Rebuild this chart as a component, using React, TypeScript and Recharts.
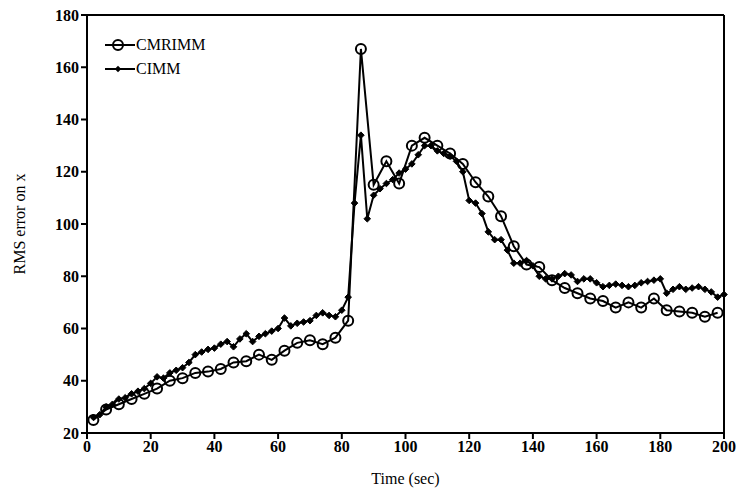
import React from "react";
import {
  LineChart,
  Line,
  XAxis,
  YAxis,
  ReferenceLine,
} from "recharts";

// CMRIMM sampled every 4 s, CIMM every 2 s
const cmrimmTime = [
  2, 6, 10, 14, 18, 22, 26, 30, 34, 38, 42, 46, 50, 54, 58, 62, 66, 70, 74, 78,
  82, 86, 90, 94, 98, 102, 106, 110, 114, 118, 122, 126, 130, 134, 138, 142,
  146, 150, 154, 158, 162, 166, 170, 174, 178, 182, 186, 190, 194, 198,
];
const cmrimmRms = [
  25, 29, 31, 33, 35, 37, 40, 41, 43, 43.5, 44.5, 47, 47.5, 50, 48, 51.5, 54.5,
  55.5, 54, 56.5, 63, 167, 115, 124, 115.5, 130, 133, 130, 127, 123, 116, 110.5,
  103, 91.5, 84.5, 83.5, 78.5, 75.5, 73.5, 71.5, 70.5, 68, 70, 68, 71.5, 67,
  66.5, 66, 64.5, 66,
];

const cimmTime = [
  2, 4, 6, 8, 10, 12, 14, 16, 18, 20, 22, 24, 26, 28, 30, 32, 34, 36, 38, 40,
  42, 44, 46, 48, 50, 52, 54, 56, 58, 60, 62, 64, 66, 68, 70, 72, 74, 76, 78,
  80, 82, 84, 86, 88, 90, 92, 94, 96, 98, 100, 102, 104, 106, 108, 110, 112,
  114, 116, 118, 120, 122, 124, 126, 128, 130, 132, 134, 136, 138, 140, 142,
  144, 146, 148, 150, 152, 154, 156, 158, 160, 162, 164, 166, 168, 170, 172,
  174, 176, 178, 180, 182, 184, 186, 188, 190, 192, 194, 196, 198, 200,
];
const cimmRms = [
  26, 27, 30, 31, 33, 33.5, 35, 36, 37, 39, 41.5, 41, 43, 44, 45, 47, 50, 51,
  52, 52.5, 54, 55, 53, 56, 58, 55, 57, 58, 59, 60, 64, 61, 62, 62.5, 63, 65,
  66, 65, 64.5, 67, 72, 108, 134, 102, 111, 113.5, 115.5, 117, 119.5, 121, 123,
  126.5, 130, 130, 128, 127, 126, 124, 120, 109, 108, 104, 97, 94, 94, 90, 85,
  85, 86, 84, 80, 79, 79, 80, 81, 80.5, 78, 79, 79, 77.5, 76, 76.5, 77, 76.5,
  76, 76.5, 77.5, 78, 78.5, 79, 73.5, 75, 76, 75, 75.5, 76, 75, 74, 72, 73,
];

const xTicks = [0, 20, 40, 60, 80, 100, 120, 140, 160, 180, 200];
const yTicks = [20, 40, 60, 80, 100, 120, 140, 160, 180];

const cmrimmData = cmrimmTime.map((t, i) => ({ t, v: cmrimmRms[i] }));
const cimmData = cimmTime.map((t, i) => ({ t, v: cimmRms[i] }));

const FONT = "'Liberation Serif', 'Times New Roman', serif";
const tickStyle = { fontFamily: FONT, fontSize: 16, fontWeight: 700, fill: "#000" };

function Diamond(props: any) {
  const { cx, cy, index } = props;
  if (cx == null || cy == null) return <g key={`d-${index}`} />;
  const s = 3.3;
  return (
    <polygon
      key={`d-${index}`}
      points={`${cx},${cy - s} ${cx + s},${cy} ${cx},${cy + s} ${cx - s},${cy}`}
      fill="#000"
      stroke="#000"
      strokeWidth={1}
    />
  );
}

function LegendBox() {
  const rows = [
    { name: "CMRIMM", circle: true },
    { name: "CIMM", circle: false },
  ];
  return (
    <div
      style={{
        position: "absolute",
        left: 105,
        top: 33,
        fontFamily: FONT,
        fontSize: 16,
        color: "#000",
        lineHeight: "24px",
      }}
    >
      {rows.map((r) => (
        <div key={r.name} style={{ display: "flex", alignItems: "center" }}>
          <svg width={30} height={16}>
            <line x1={0} y1={8} x2={30} y2={8} stroke="#000" strokeWidth={2} />
            {r.circle ? (
              <circle cx={13} cy={8} r={5} fill="none" stroke="#000" strokeWidth={2} />
            ) : (
              <polygon points="13,4.8 16.2,8 13,11.2 9.8,8" fill="#000" />
            )}
          </svg>
          <span style={{ marginLeft: 1 }}>{r.name}</span>
        </div>
      ))}
    </div>
  );
}

export default function App() {
  return (
    <div style={{ position: "absolute", left: 0, top: 0, background: "#fff" }}>
      <LineChart
        width={738}
        height={495}
        margin={{ top: 15, right: 14, bottom: 22, left: 27 }}
      >
        <XAxis
          type="number"
          dataKey="t"
          domain={[0, 200]}
          ticks={xTicks}
          allowDuplicatedCategory={false}
          tick={tickStyle}
          tickSize={6}
          height={40}
          stroke="#000"
          strokeWidth={2}
          label={{
            value: "Time (sec)",
            position: "insideBottom",
            offset: -11,
            style: { fontFamily: FONT, fontSize: 16, fill: "#000" },
          }}
        />
        <YAxis
          type="number"
          domain={[20, 180]}
          ticks={yTicks}
          tick={tickStyle}
          tickSize={6}
          width={60}
          stroke="#000"
          strokeWidth={2}
          label={{
            value: "RMS error on x",
            angle: -90,
            position: "insideLeft",
            offset: -8,
            style: { fontFamily: FONT, fontSize: 16, fill: "#000", textAnchor: "middle" },
          }}
        />
        <ReferenceLine y={180} stroke="#000" strokeWidth={2} />
        <ReferenceLine x={200} stroke="#000" strokeWidth={2} />
        <Line
          data={cmrimmData}
          dataKey="v"
          name="CMRIMM"
          stroke="#000"
          strokeWidth={2}
          dot={{ r: 5, fill: "none", stroke: "#000", strokeWidth: 2 }}
          isAnimationActive={false}
        />
        <Line
          data={cimmData}
          dataKey="v"
          name="CIMM"
          stroke="#000"
          strokeWidth={2}
          dot={Diamond}
          isAnimationActive={false}
        />
      </LineChart>
      <LegendBox />
    </div>
  );
}
